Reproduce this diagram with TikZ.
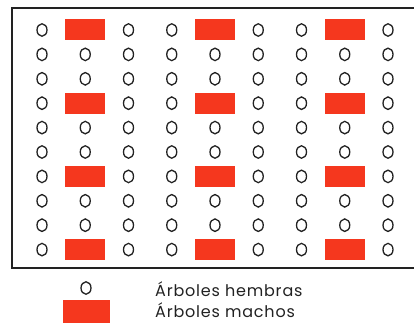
\documentclass[tikz,border=0pt]{standalone}
\usepackage{fontspec}
\setmainfont{Poppins}[LetterSpace=5]
\usetikzlibrary{shapes.geometric}
\definecolor{rojomacho}{HTML}{F5371E}
\definecolor{trazo}{HTML}{222222}

\begin{document}
\begin{tikzpicture}[x=1pt, y=-1pt,
    hembra/.style={ellipse, draw=trazo, line width=1.3pt, fill=white, minimum width=10pt, minimum height=12.5pt, inner sep=0pt},
    macho/.style={rectangle, fill=rojomacho, minimum width=40pt, minimum height=21pt, inner sep=0pt},
    marco/.style={draw=trazo, line width=1.5pt},
    leyenda/.style={anchor=base west, font=\fontsize{16}{18}\selectfont, text=trazo, inner sep=0pt},
  ]
  \useasboundingbox (0,0) rectangle (414,323);

  % marco de la plantacion
  \coordinate (esq-si) at (12,8);
  \coordinate (esq-sd) at (414,8);
  \coordinate (esq-ii) at (12,268);
  \coordinate (esq-id) at (414,268);
  \draw[marco] (esq-sd) -- (esq-si) -- (esq-ii) -- (esq-id);

  % arboles: machos cada tres filas y tres columnas
  \foreach \fila in {1,...,10}{
    \foreach \col in {1,...,9}{
      \pgfmathtruncatemacro{\esmacho}{and(mod(\fila-1,3)==0, mod(\col-2,3)==0)}
      \ifnum\esmacho=1
        \node[macho] (m-\fila-\col) at ({42+(\col-1)*43.25},{30+(\fila-1)*24.4}) {};
      \else
        \node[hembra] (h-\fila-\col) at ({42+(\col-1)*43.25},{30+(\fila-1)*24.4}) {};
      \fi
    }
  }

  % leyenda
  \node[hembra] (ley-h) at (86,288) {};
  \node[macho, minimum width=47pt, minimum height=23pt] (ley-m) at (86.5,311.5) {};
  \node[leyenda] (txt-h) at (155,296) {Árboles hembras};
  \node[leyenda] (txt-m) at (155,317) {Árboles machos};
\end{tikzpicture}
\end{document}
